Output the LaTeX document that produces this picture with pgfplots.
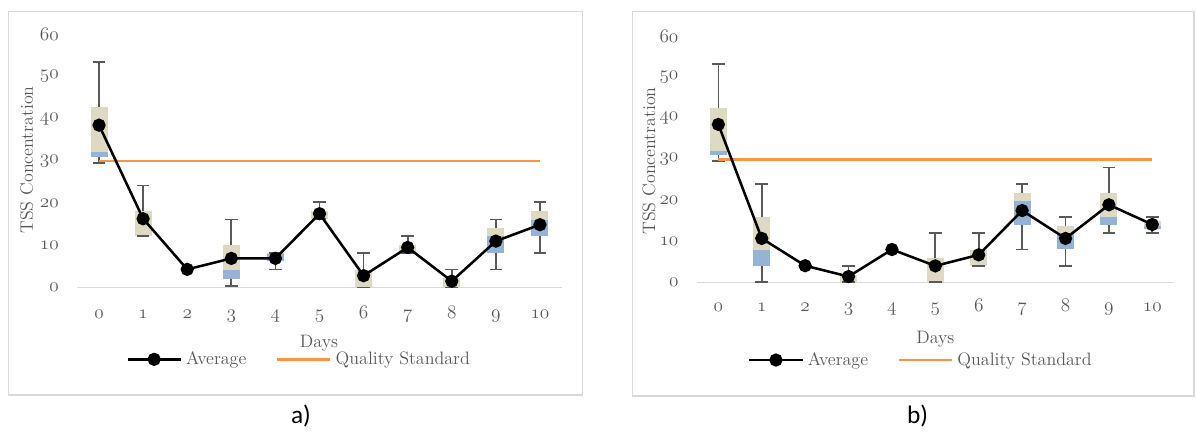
\documentclass[border=0pt]{standalone}
\usepackage{fontspec}
\usepackage{pgfplots}
\usepackage{pgfplotstable}
\pgfplotsset{compat=1.18}
\newfontfamily\carlito{Carlito}
\newcommand\osf[1]{{\usefont{OML}{lmm}{m}{it}#1}}
\newcommand\labsize{\fontsize{13.5}{16}\selectfont}
\newcommand\ticksize{\fontsize{14}{16}\selectfont}
\definecolor{tanc}{HTML}{DDD9C3}
\definecolor{bluec}{HTML}{95B3D7}
\definecolor{qs}{HTML}{F79646}
\definecolor{txt}{HTML}{595959}
\definecolor{gridc}{HTML}{D9D9D9}
\definecolor{whisk}{HTML}{595959}

% x avg min q1 med q3 max
\pgfplotstableread{
x avg  min  q1   med  q3   max
0 38.5 29.5 31.0 32.1 42.8 53.5
1 16.3 12.2 12.2 12.2 18.1 24.2
2 4.3  4.3  4.3  4.3  4.3  4.3
3 6.9  0.3  2.1  4.1  10.1 16.1
4 6.9  4.3  6.2  8.0  8.1  8.2
5 17.5 16.3 16.3 16.3 18.1 20.2
6 2.8  0.0  0.0  0.0  4.1  8.2
7 9.5  8.2  8.2  8.2  10.1 12.2
8 1.5  0.0  0.0  0.0  2.2  4.3
9 11.0 4.3  8.2  12.2 14.1 16.1
10 14.9 8.2 12.2 16.1 18.1 20.2
}\dataA

\pgfplotstableread{
x avg  min  q1   med  q3   max
0 38.5 29.5 31.0 32.0 42.6 53.3
1 10.7 0.0  4.0  7.9  15.9 23.9
2 4.05 4.05 4.05 4.05 4.05 4.05
3 1.4  0.0  0.0  0.0  1.8  4.0
4 8.0  8.0  8.0  8.0  8.0  8.0
5 4.0  0.0  0.0  0.0  5.9  12.1
6 6.7  4.0  4.0  4.0  7.9  12.1
7 17.5 8.0  14.0 19.8 21.9 24.0
8 10.7 4.0  8.0  11.9 13.8 16.0
9 18.9 12.1 14.0 16.0 21.9 28.0
10 14.1 12.1 12.9 13.7 15.0 16.0
}\dataB

\pgfplotsset{
  panel/.style={
    scale only axis, anchor=south west, clip=false,
    xmin=-0.5, xmax=10.5, ymin=0, ymax=60,
    axis x line*=bottom, axis y line*=left,
    axis line style={-, draw=gridc, line width=1.1pt},
    y axis line style={draw=none},
    xtick={0,1,2,3,4,5,6,7,8,9,10},
    xticklabels={\osf{0},\osf{1},\osf{2},\osf{3},\osf{4},\osf{5},\osf{6},\osf{7},\osf{8},\osf{9},\osf{10}},
    ytick={0,10,20,30,40,50,60},
    yticklabels={\osf{0},\osf{10},\osf{20},\osf{30},\osf{40},\osf{50},\osf{60}},
    major tick length=0pt,
    tick label style={text=txt, font=\ticksize, inner sep=0pt},
    yticklabel style={anchor=east, xshift=-13.5pt},
    label style={text=txt, font=\labsize},
    legend columns=2,
    legend style={draw=none, fill=none, inner sep=0pt, font=\labsize, text=txt,
      anchor=west,
      nodes={inner sep=0pt},
      /tikz/every odd column/.style={column sep=3pt},
      /tikz/every even column/.style={column sep=22pt}},
    legend image code/.code={\draw[mark repeat=2,mark phase=2,##1] plot coordinates {(0pt,0pt) (20pt,0pt) (40pt,0pt)};},
  },
  boxup/.style={forget plot, draw=none, mark=none,
    error bars/.cd, y dir=plus, y explicit, error mark=none,
    error bar style={line width=12.75pt, draw=tanc}},
  boxdown/.style={forget plot, draw=none, mark=none,
    error bars/.cd, y dir=minus, y explicit, error mark=none,
    error bar style={line width=12.75pt, draw=bluec}},
  whup/.style={forget plot, draw=none, mark=none,
    error bars/.cd, y dir=plus, y explicit,
    error bar style={line width=1.3pt, draw=whisk},
    error mark options={line width=1.3pt, draw=whisk, mark size=4.75pt, rotate=90}},
  whdown/.style={forget plot, draw=none, mark=none,
    error bars/.cd, y dir=minus, y explicit,
    error bar style={line width=1.3pt, draw=whisk},
    error mark options={line width=1.3pt, draw=whisk, mark size=4.75pt, rotate=90}},
}

\begin{document}
\begin{tikzpicture}
\useasboundingbox (0pt,0pt) rectangle (897pt,324pt);

% ---------- panel a ----------
\begin{axis}[panel, at={(57.75pt,108.375pt)}, width=363.75pt, height=189.75pt,
  xticklabel style={anchor=base, yshift=-23.5pt},
  xlabel={Days}, ylabel={TSS Concentration},
  xlabel style={at={(axis description cs:0.499,-0.237)}, anchor=base},
  ylabel style={at={(axis description cs:-0.1037,0.504)}, anchor=center},
  legend style={at={(0.101,-0.284)}}]
\addplot[boxup] table[x=x, y=med, y error expr=\thisrow{q3}-\thisrow{med}] {\dataA};
\addplot[boxdown] table[x=x, y=med, y error expr=\thisrow{med}-\thisrow{q1}] {\dataA};
\addplot[skip coords between index={2}{3}, whup] table[x=x, y=q3, y error expr=\thisrow{max}-\thisrow{q3}] {\dataA};
\addplot[skip coords between index={2}{3}, whdown] table[x=x, y=q1, y error expr=\thisrow{q1}-\thisrow{min}] {\dataA};
\addplot[forget plot, qs, line width=2pt] coordinates {(0,30) (10,30)};
\addplot[black, line width=1.9pt, mark=*, mark size=4pt, mark options={solid}] table[x=x, y=avg] {\dataA};
\addlegendentry{Average}
\addlegendimage{qs, line width=2pt}
\addlegendentry{Quality Standard}
\end{axis}

% ---------- panel b ----------
\begin{axis}[panel, at={(522.5pt,112.275pt)}, width=358pt, height=184.5pt,
  xticklabel style={anchor=base, yshift=-22pt},
  xlabel={Days}, ylabel={TSS Concentration},
  xlabel style={at={(axis description cs:0.500,-0.248)}, anchor=base},
  ylabel style={at={(axis description cs:-0.0999,0.493)}, anchor=center},
  legend style={at={(0.107,-0.316)}}]
\addplot[boxup] table[x=x, y=med, y error expr=\thisrow{q3}-\thisrow{med}] {\dataB};
\addplot[boxdown] table[x=x, y=med, y error expr=\thisrow{med}-\thisrow{q1}] {\dataB};
\addplot[skip coords between index={2}{3}, skip coords between index={4}{5}, whup] table[x=x, y=q3, y error expr=\thisrow{max}-\thisrow{q3}] {\dataB};
\addplot[skip coords between index={2}{3}, skip coords between index={4}{5}, whdown] table[x=x, y=q1, y error expr=\thisrow{q1}-\thisrow{min}] {\dataB};
\addplot[forget plot, qs, line width=2pt] coordinates {(0,30) (10,30)};
\addplot[black, line width=1.9pt, mark=*, mark size=4pt, mark options={solid}] table[x=x, y=avg] {\dataB};
\addlegendentry{Average}
\addlegendimage{qs, line width=2pt}
\addlegendentry{Quality Standard}
\end{axis}

% ---------- frames and captions ----------
\begin{scope}[x=0.75pt, y=-0.75pt, shift={(0pt,324pt)}]
\draw[gridc, line width=1.1pt] (8.3,11.7) rectangle (582.7,395);
\draw[gridc, line width=1.1pt] (632.7,11.7) rectangle (1194,396);
\node[font={\carlito\fontsize{19}{22}\selectfont}] at (301,416) {a)};
\node[font={\carlito\fontsize{19}{22}\selectfont}] at (917.5,416) {b)};
\end{scope}
\end{tikzpicture}
\end{document}
